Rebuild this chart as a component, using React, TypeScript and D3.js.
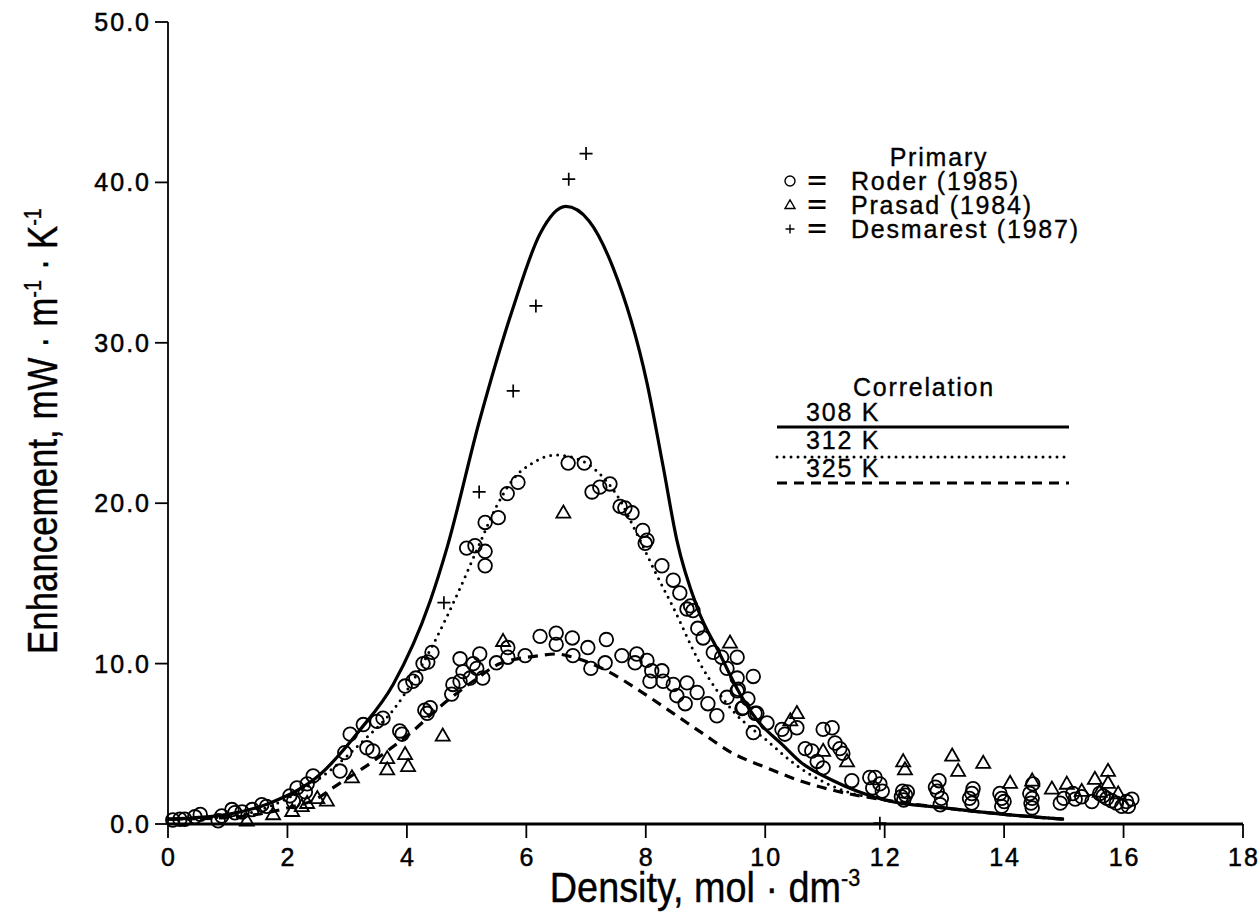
import React from 'react';
import * as d3 from 'd3';

type P = [number, number];

const xTicks = [0, 2, 4, 6, 8, 10, 12, 14, 16, 18];
const yTicks = [0, 10, 20, 30, 40, 50];

// Roder (1985) — circles
const roder: P[] = [
  [0.08, 0.25], [0.2, 0.3], [0.28, 0.3], [0.45, 0.45], [0.54, 0.6], [0.84, 0.2], [0.9, 0.5],
  [1.07, 0.9], [1.12, 0.7], [1.24, 0.75], [1.41, 0.9], [1.57, 1.2], [1.65, 1.1], [2.04, 1.75],
  [2.1, 1.4], [2.16, 2.25], [2.3, 2.0], [2.33, 2.5], [2.43, 3.0],
  [2.88, 3.3], [2.96, 4.45], [3.05, 5.6], [3.27, 6.2], [3.33, 4.75], [3.43, 4.55], [3.5, 6.4],
  [3.6, 6.6], [3.88, 5.8], [3.92, 5.6], [3.97, 8.6], [4.1, 8.9], [4.15, 9.1], [4.27, 10.0],
  [4.35, 10.1], [4.42, 10.7], [4.3, 7.1], [4.34, 6.9], [4.39, 7.25],
  [4.75, 8.1], [4.77, 8.7], [4.89, 8.9], [4.94, 9.5], [4.89, 10.3], [5.06, 9.1], [5.11, 10.0],
  [5.17, 9.7], [5.22, 10.6], [5.27, 9.1], [5.5, 10.05], [5.69, 11.0], [5.69, 10.4], [5.98, 10.5],
  [6.23, 11.7], [6.5, 11.9], [6.5, 11.2], [6.77, 11.6], [6.78, 10.5], [7.03, 11.0], [7.08, 9.7],
  [7.34, 11.5], [7.32, 10.05], [7.6, 10.5], [7.85, 10.6], [7.82, 10.05], [8.02, 10.2], [8.1, 9.55],
  [8.27, 9.55], [8.07, 8.9], [8.29, 8.9], [8.46, 8.7], [8.69, 8.8], [8.86, 8.2], [8.52, 8.0],
  [8.66, 7.5], [9.04, 7.5], [9.19, 6.75],
  [5.0, 17.2], [5.14, 17.35], [5.31, 17.0], [5.31, 16.1], [5.31, 18.8], [5.53, 19.1], [5.68, 20.6],
  [5.86, 21.3], [6.7, 22.5], [6.97, 22.5], [7.1, 20.7], [7.23, 21.0], [7.4, 21.2], [7.57, 19.8],
  [7.65, 19.7], [7.77, 19.4], [7.95, 18.3], [8.02, 17.7], [7.99, 17.5], [8.27, 16.1], [8.46, 15.2],
  [8.57, 14.4], [8.69, 13.4], [8.79, 13.3], [8.75, 13.6], [8.87, 12.2], [8.96, 11.6], [9.13, 10.7],
  [9.27, 10.4], [9.36, 9.7], [9.53, 10.4], [9.53, 9.1], [9.8, 9.2], [9.53, 8.3], [9.36, 7.9],
  [9.71, 7.8], [9.61, 7.2], [9.83, 6.9], [9.8, 5.7], [9.55, 8.4], [9.63, 7.25], [9.86, 6.9],
  [10.03, 6.3], [10.28, 5.9], [10.33, 5.6], [10.53, 6.0], [10.97, 5.9], [11.12, 6.0], [11.17, 5.05],
  [11.25, 4.7], [11.3, 4.4], [10.67, 4.7], [10.78, 4.55], [10.87, 3.9], [10.97, 3.5], [11.45, 2.7],
  [11.75, 2.9], [11.84, 2.9], [11.92, 2.5], [11.8, 2.25], [11.96, 2.05],
  [12.28, 1.7], [12.3, 2.05], [12.32, 1.5], [12.35, 1.8], [12.38, 2.0],
  [12.85, 2.3], [12.88, 2.05], [12.91, 2.7], [12.93, 1.2], [12.95, 1.6],
  [13.42, 1.6], [13.46, 1.9], [13.46, 1.3], [13.48, 2.2],
  [13.93, 1.9], [13.96, 1.6], [13.96, 1.1], [14.0, 1.4],
  [14.43, 1.9], [14.45, 1.3], [14.47, 1.6], [14.47, 1.0], [14.48, 2.5],
  [14.94, 1.3], [15.0, 1.6], [15.15, 1.9], [15.19, 1.55], [15.3, 1.7],
  [15.47, 1.4], [15.6, 1.9], [15.66, 1.75], [15.72, 1.6], [15.8, 1.45], [15.88, 1.3],
  [15.97, 1.1], [16.05, 1.4], [16.08, 1.1], [16.14, 1.55],
];

// Prasad (1984) — triangles
const prasad: P[] = [
  [1.32, 0.2], [1.76, 0.6], [2.08, 0.8], [2.24, 1.1], [2.33, 1.3], [2.5, 1.6], [2.66, 1.45],
  [3.08, 2.9], [3.67, 3.4], [3.67, 4.1], [3.97, 4.35], [4.02, 3.6], [4.6, 5.5], [5.61, 11.4],
  [6.62, 19.4], [9.41, 11.3], [10.42, 6.45], [10.53, 6.9], [10.97, 4.55], [11.37, 3.9],
  [12.31, 3.9], [12.34, 3.4], [13.13, 4.25], [13.23, 3.3], [13.65, 3.8], [14.1, 2.55],
  [14.47, 2.7], [14.8, 2.2], [15.05, 2.5], [15.3, 2.05], [15.52, 2.8], [15.74, 3.3],
  [15.74, 2.55], [15.91, 1.9], [15.6, 2.0],
];

// Desmarest (1987) — plus
const desmarest: P[] = [
  [4.62, 13.8], [5.21, 20.7], [5.78, 27.0], [6.16, 32.3], [6.71, 40.2], [7.0, 41.8], [11.92, 0.05],
];

// Correlation curves
const corr308: P[] = [
  [0, 0.3], [1, 0.6], [1.7, 1.3], [2.55, 3.1], [3.2, 5.8], [3.77, 8.7], [4.39, 13.9], [4.67, 17.2],
  [5.22, 25.2], [5.78, 32.2], [6.23, 36.8], [6.66, 38.5], [7.05, 37.6], [7.45, 34.7], [8.02, 27.5],
  [8.29, 22.3], [8.52, 17.7], [8.86, 13.5], [9.24, 10.6], [9.58, 8.1], [9.86, 6.5], [10.3, 4.9],
  [10.58, 3.9], [11.14, 2.7], [12, 1.5], [13, 1.0], [14, 0.6], [15, 0.3],
];
const corr312: P[] = [
  [0, 0.3], [1, 0.45], [2, 1.6], [2.7, 3.3], [3.3, 5.3], [3.77, 7.1], [4.44, 11.2], [4.89, 14.7],
  [5.22, 17.5], [5.5, 19.8], [5.78, 21.5], [6.1, 22.5], [6.5, 23.0], [6.9, 22.7], [7.18, 22.0],
  [7.55, 20.3], [7.85, 18.1], [8.2, 15.4], [8.46, 13.5], [8.91, 10.0], [9.46, 7.05], [10.03, 5.2],
  [10.58, 3.5], [11.3, 2.1], [12, 1.5], [13, 1.0], [14, 0.6], [15, 0.3],
];
const corr325: P[] = [
  [0, 0.3], [1, 0.4], [2, 1.0], [2.5, 1.6], [2.76, 2.25], [3.43, 3.9], [4.1, 5.8], [4.55, 7.3],
  [5.11, 8.9], [5.56, 10.0], [6.23, 10.5], [6.5, 10.6], [6.78, 10.4], [7.35, 9.55], [7.9, 8.3],
  [8.46, 6.9], [8.97, 5.6], [9.46, 4.4], [10.03, 3.5], [10.58, 2.7], [11.14, 2.1], [12, 1.5],
  [13, 1.0], [14, 0.6], [15, 0.3],
];

const primaryTitle = 'Primary';
const primaryLabels = ['Roder (1985)', 'Prasad (1984)', 'Desmarest (1987)'];
const corrTitle = 'Correlation';
const corrLabels = ['308 K', '312 K', '325 K'];

const FONT = '"Liberation Sans", Arial, Helvetica, sans-serif';

function triPath(cx: number, cy: number, s: number) {
  const h = s * 0.866;
  return `M${cx},${cy - h * 0.6}L${cx + s / 2},${cy + h * 0.4}L${cx - s / 2},${cy + h * 0.4}Z`;
}
function plusPath(cx: number, cy: number, r: number) {
  return `M${cx - r},${cy}H${cx + r}M${cx},${cy - r}V${cy + r}`;
}

export default function App() {
  const W = 1259;
  const H = 915;
  const x = d3.scaleLinear().domain([0, 18]).range([168, 1243]);
  const y = d3.scaleLinear().domain([0, 50]).range([824, 22]);
  const line = d3
    .line<P>()
    .x((d) => x(d[0]))
    .y((d) => y(d[1]))
    .curve(d3.curveMonotoneX);

  const tickStyle: React.CSSProperties = {
    fontFamily: FONT,
    fontSize: 25,
    letterSpacing: 2,
    stroke: '#000',
    strokeWidth: 0.5,
  };
  const legStyle: React.CSSProperties = {
    fontFamily: FONT,
    fontSize: 25,
    letterSpacing: 1.8,
    stroke: '#000',
    strokeWidth: 0.35,
  };
  const titleStyle: React.CSSProperties = {
    fontFamily: FONT,
    fontSize: 42,
    stroke: '#000',
    strokeWidth: 0.4,
  };

  // legend layout
  const legRows = [181, 205, 229];
  const corrLineY = [427, 457, 483];
  const corrTextY = [421, 449, 477];

  return (
    <svg
      width={W}
      height={H}
      viewBox={`0 0 ${W} ${H}`}
      style={{ position: 'absolute', left: 0, top: 0, display: 'block', background: '#fff' }}
    >
      <rect x={0} y={0} width={W} height={H} fill="#fff" />

      {/* curves */}
      <path d={line(corr308) || ''} fill="none" stroke="#000" strokeWidth={3.2} />
      <path
        d={line(corr312) || ''}
        fill="none"
        stroke="#000"
        strokeWidth={3}
        strokeDasharray="0 7"
        strokeLinecap="round"
      />
      <path d={line(corr325) || ''} fill="none" stroke="#000" strokeWidth={3.2} strokeDasharray="10 7" />

      {/* data */}
      {roder.map((d, i) => (
        <circle key={'r' + i} cx={x(d[0])} cy={y(d[1])} r={6.8} fill="none" stroke="#000" strokeWidth={1.8} />
      ))}
      {prasad.map((d, i) => (
        <path key={'p' + i} d={triPath(x(d[0]), y(d[1]), 14)} fill="none" stroke="#000" strokeWidth={1.8} />
      ))}
      {desmarest.map((d, i) => (
        <path key={'d' + i} d={plusPath(x(d[0]), y(d[1]), 6.5)} fill="none" stroke="#000" strokeWidth={1.7} />
      ))}

      {/* axes */}
      <line x1={x(0)} x2={x(0)} y1={y(50)} y2={y(0)} stroke="#000" strokeWidth={1.8} />
      <line x1={x(0)} x2={x(18)} y1={y(0)} y2={y(0)} stroke="#000" strokeWidth={3.2} />
      {yTicks.map((t) => (
        <g key={'yt' + t}>
          <line x1={x(0) - 13} x2={x(0)} y1={y(t)} y2={y(t)} stroke="#000" strokeWidth={1.8} />
          <text x={x(0) - 17} y={y(t)} dy="0.36em" textAnchor="end" style={tickStyle}>
            {t.toFixed(1)}
          </text>
        </g>
      ))}
      {xTicks.map((t) => (
        <g key={'xt' + t}>
          <line x1={x(t)} x2={x(t)} y1={y(0)} y2={y(0) + 14} stroke="#000" strokeWidth={1.8} />
          <text x={x(t) + 1} y={y(0) + 33} dy="0.36em" textAnchor="middle" style={tickStyle}>
            {t}
          </text>
        </g>
      ))}

      {/* axis titles */}
      <g transform={`translate(${705},${902}) scale(0.9,1)`}>
        <text textAnchor="middle" style={titleStyle}>
          Density, mol · dm
          <tspan dy={-16} style={{ fontSize: 24 }}>-3</tspan>
        </text>
      </g>
      <g transform={`translate(${57},${431}) rotate(-90) scale(0.83,1)`}>
        <text textAnchor="middle" style={titleStyle}>
          Enhancement, mW · m
          <tspan dy={-16} style={{ fontSize: 24 }}>-1</tspan>
          <tspan dy={16}> · K</tspan>
          <tspan dy={-16} style={{ fontSize: 24 }}>-1</tspan>
        </text>
      </g>

      {/* Primary legend */}
      <text x={939} y={157} dy="0.36em" textAnchor="middle" style={legStyle}>
        {primaryTitle}
      </text>
      {primaryLabels.map((lab, i) => (
        <g key={'pl' + i}>
          {i === 0 && <circle cx={790} cy={legRows[i]} r={5} fill="none" stroke="#000" strokeWidth={1.4} />}
          {i === 1 && <path d={triPath(790, legRows[i], 10)} fill="none" stroke="#000" strokeWidth={1.4} />}
          {i === 2 && <path d={plusPath(790, legRows[i], 4.5)} fill="none" stroke="#000" strokeWidth={1.4} />}
          <g transform={`translate(817,${legRows[i]}) scale(1.4,1)`}>
            <text x={0} y={0} dy="0.33em" textAnchor="middle" style={{ fontFamily: FONT, fontSize: 24, fontWeight: 700 }}>
              =
            </text>
          </g>
          <text x={851} y={legRows[i]} dy="0.36em" style={legStyle}>
            {lab}
          </text>
        </g>
      ))}

      {/* Correlation legend */}
      <text x={924} y={387} dy="0.36em" textAnchor="middle" style={legStyle}>
        {corrTitle}
      </text>
      {corrLabels.map((lab, i) => (
        <g key={'cl' + i}>
          <text x={806} y={corrTextY[i]} style={legStyle}>
            {lab}
          </text>
          <line
            x1={777}
            x2={1069}
            y1={corrLineY[i]}
            y2={corrLineY[i]}
            stroke="#000"
            strokeWidth={i === 0 ? 3.2 : 3}
            strokeDasharray={i === 0 ? undefined : i === 1 ? '0 7' : '10 7'}
            strokeLinecap={i === 1 ? 'round' : 'butt'}
          />
        </g>
      ))}
    </svg>
  );
}
